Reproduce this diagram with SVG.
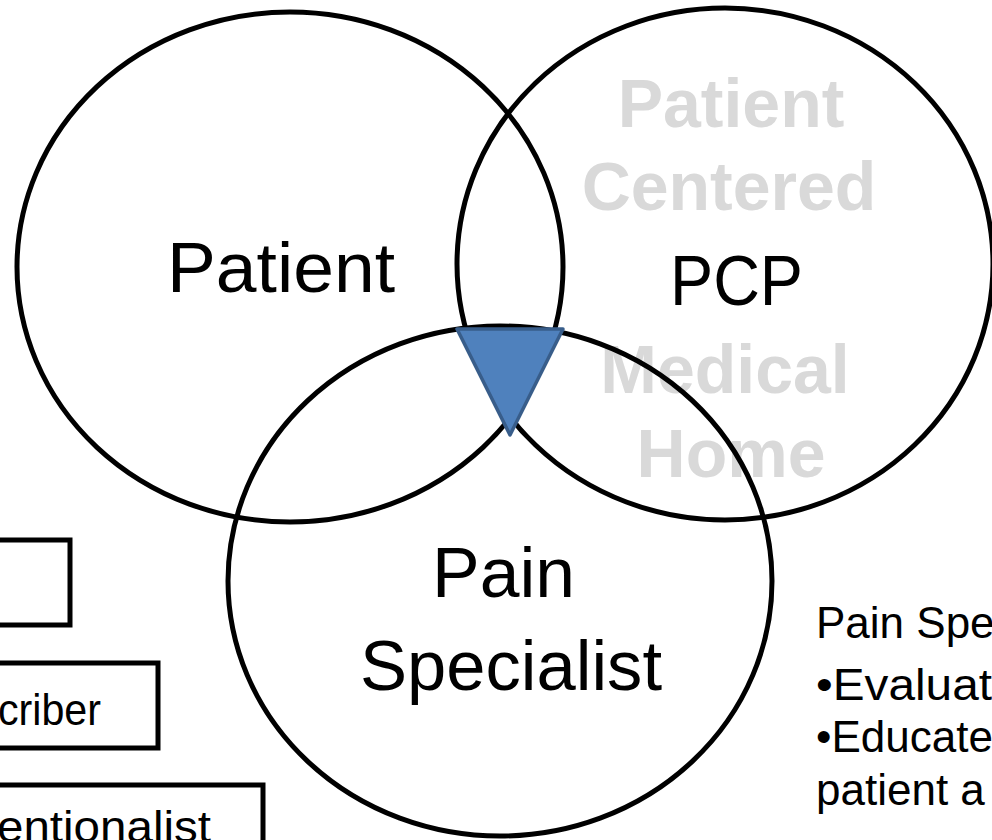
<svg xmlns="http://www.w3.org/2000/svg" width="992" height="840" viewBox="0 0 992 840">
<style>
.ring{fill:none;stroke:#000;stroke-width:5}
.box{fill:#fff;stroke:#000;stroke-width:5}
.big{font-family:"Liberation Sans",Arial,sans-serif;font-size:70px;fill:#000}
.gray{font-family:"Liberation Sans",Arial,sans-serif;font-size:68px;font-weight:bold;fill:#D9D9D9;text-anchor:middle}
.side{font-family:"Liberation Sans",Arial,sans-serif;font-size:44px;fill:#000}
</style>
<rect width="992" height="840" fill="#fff"/>
<g id="pcmh-label">
<text class="gray" x="731" y="127">Patient</text>
<text class="gray" x="729" y="210">Centered</text>
<text class="gray" x="725" y="393">Medical</text>
<text class="gray" x="731" y="477">Home</text>
</g>
<g id="patient">
<ellipse class="ring" cx="290" cy="267" rx="273" ry="255"/>
<text class="big" x="167" y="292" font-size="68" textLength="228" lengthAdjust="spacingAndGlyphs">Patient</text>
</g>
<g id="pcp">
<ellipse class="ring" cx="725" cy="264" rx="268" ry="256"/>
<text class="big" x="670" y="305" font-size="84" textLength="133" lengthAdjust="spacingAndGlyphs">PCP</text>
</g>
<g id="pain-specialist">
<ellipse class="ring" cx="500" cy="581" rx="272" ry="255"/>
<text class="big" x="432" y="597" textLength="143" lengthAdjust="spacingAndGlyphs">Pain</text>
<text class="big" x="360" y="690" textLength="302" lengthAdjust="spacingAndGlyphs">Specialist</text>
</g>
<g id="center-triangle">
<polygon points="457,329 563,329 510,435" fill="#4F81BD" stroke="#385D8A" stroke-width="3.5" stroke-linejoin="round"/>
</g>
<g id="box-1">
<rect class="box" x="-20" y="540" width="90" height="85"/>
</g>
<g id="box-2">
<rect class="box" x="-20" y="663" width="178" height="85"/>
<text class="side" x="101" y="725" text-anchor="end" textLength="103" lengthAdjust="spacingAndGlyphs">criber</text>
</g>
<g id="box-3">
<rect class="box" x="-20" y="785" width="283" height="85"/>
<text class="side" x="211" y="842" text-anchor="end" textLength="214" lengthAdjust="spacingAndGlyphs">entionalist</text>
</g>
<g id="pain-specialist-notes">
<text class="side" x="816" y="638">Pain Spe</text>
<text class="side" x="816" y="700" textLength="176" lengthAdjust="spacingAndGlyphs">•Evaluat</text>
<text class="side" x="816" y="752">•Educate</text>
<text class="side" x="816" y="805">patient a</text>
</g>
</svg>
